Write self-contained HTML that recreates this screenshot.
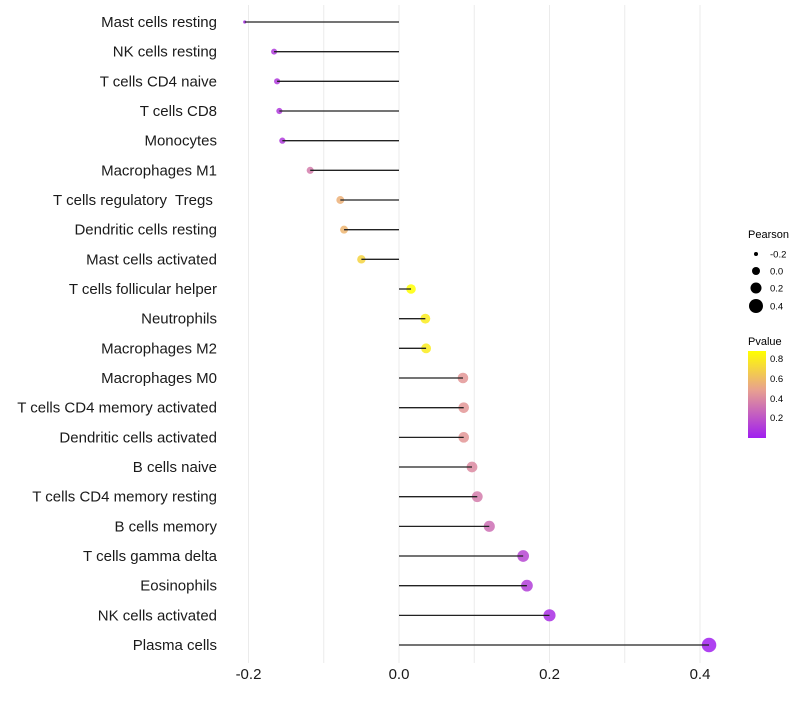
<!DOCTYPE html>
<html><head><meta charset="utf-8"><style>
body{margin:0;background:#fff;font-family:"Liberation Sans",sans-serif}
text{white-space:pre}
</style></head><body>
<svg id="chart" width="800" height="700" xmlns="http://www.w3.org/2000/svg">
<g id="grid"></g>
<g id="marks"></g>
<g id="ylabels"></g>
<g id="xlabels"></g>
<g font-size="9.5">
<text x="748" y="238" font-size="11">Pearson</text>
<circle cx="756" cy="254" r="2" fill="#000"/><text x="770" y="257.5">-0.2</text>
<circle cx="756" cy="271" r="4" fill="#000"/><text x="770" y="274.5">0.0</text>
<circle cx="756" cy="288" r="5.5" fill="#000"/><text x="770" y="291.5">0.2</text>
<circle cx="756" cy="306" r="7" fill="#000"/><text x="770" y="309.5">0.4</text>
</g>
<g font-size="9.5">
<defs><linearGradient id="pg" x1="0" y1="1" x2="0" y2="0">
<stop offset="0" stop-color="#A01EF0"/><stop offset="0.55" stop-color="#E8A090"/><stop offset="1" stop-color="#FFFF00"/></linearGradient></defs>
<text x="748" y="345" font-size="11">Pvalue</text>
<rect x="748" y="351" width="18" height="87" fill="url(#pg)"/>
<text x="770" y="362">0.8</text><text x="770" y="382">0.6</text><text x="770" y="402">0.4</text><text x="770" y="421">0.2</text>
</g>
</svg>
<script>
const categories=["Mast cells resting","NK cells resting","T cells CD4 naive","T cells CD8","Monocytes","Macrophages M1","T cells regulatory  Tregs ","Dendritic cells resting","Mast cells activated","T cells follicular helper","Neutrophils","Macrophages M2","Macrophages M0","T cells CD4 memory activated","Dendritic cells activated","B cells naive","T cells CD4 memory resting","B cells memory","T cells gamma delta","Eosinophils","NK cells activated","Plasma cells"];
const pearson=[-0.205,-0.166,-0.162,-0.159,-0.155,-0.118,-0.078,-0.073,-0.050,0.016,0.035,0.036,0.085,0.086,0.086,0.097,0.104,0.120,0.165,0.170,0.200,0.412];
const pvalues=[0.05,0.1,0.1,0.1,0.1,0.35,0.55,0.57,0.7,0.88,0.8,0.8,0.45,0.45,0.45,0.4,0.35,0.3,0.15,0.12,0.06,0.01];
const xTicks=[-0.2,0.0,0.2,0.4];
const xTickLabels=["-0.2","0.0","0.2","0.4"];
const minorTicks=[-0.1,0.1,0.3];
const NS="http://www.w3.org/2000/svg";
const x=v=>399+v*752.5;
const y=i=>22+i*29.667;
const r=v=>v<-0.19?1.6:Math.sqrt(Math.max(2.25,21.6+76*v));
function lerp(a,b,t){return a.map((c,k)=>Math.round(c+(b[k]-c)*t));}
function col(p){const t=Math.max(0,Math.min(1,p/0.88));const A=[160,30,240],B=[232,160,144],C=[255,255,0];
const c=t<0.55?lerp(A,B,t/0.55):lerp(B,C,(t-0.55)/0.45);return `rgb(${c[0]},${c[1]},${c[2]})`;}
function mk(tag,attrs,parent){const e=document.createElementNS(NS,tag);for(const k in attrs)e.setAttribute(k,attrs[k]);document.getElementById(parent).appendChild(e);return e;}
xTicks.concat(minorTicks).forEach(v=>{const l=mk('line',{x1:x(v),x2:x(v),y1:5,y2:663,stroke:'#ebebeb','stroke-width':1},'grid');

});
categories.forEach((c,i)=>{
const p=mk('circle',{cx:x(pearson[i]),cy:y(i),r:r(pearson[i]),fill:col(pvalues[i]),'fill-opacity':0.85},'marks');


const s=mk('line',{x1:x(0),x2:x(pearson[i]),y1:y(i),y2:y(i),stroke:'#222','stroke-width':1.3},'marks');


const t=mk('text',{x:217,y:y(i)+5,'text-anchor':'end','font-size':15,fill:'#1a1a1a'},'ylabels');
t.textContent=c;


});
xTicks.forEach((v,i)=>{const t=mk('text',{x:x(v),y:679,'text-anchor':'middle','font-size':15,fill:'#1a1a1a'},'xlabels');
t.textContent=xTickLabels[i];

});
</script>
</body></html>
